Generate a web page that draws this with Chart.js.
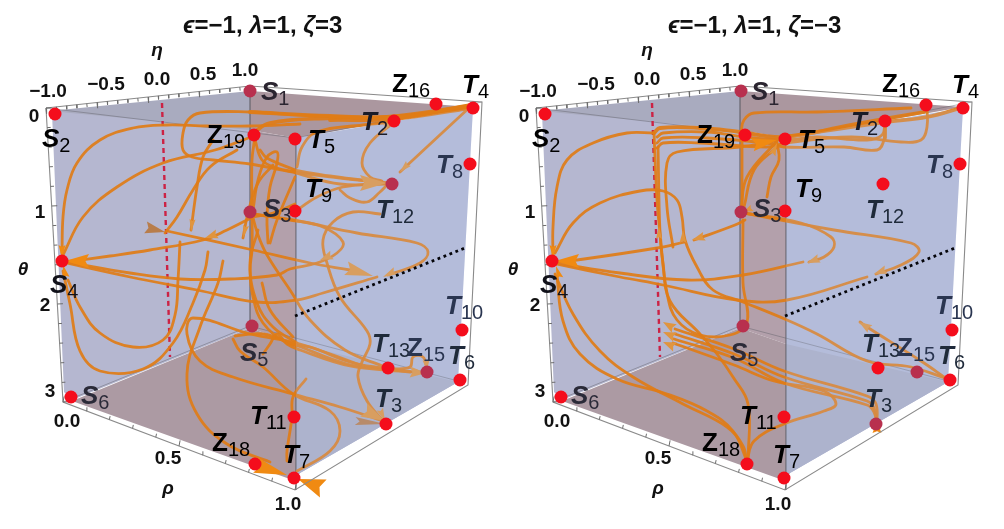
<!DOCTYPE html>
<html>
<head>
<meta charset="utf-8">
<style>
  html, body { margin: 0; padding: 0; background: #ffffff; }
  canvas { display: block; }
</style>
<script src="https://cdn.jsdelivr.net/npm/chart.js@4/dist/chart.umd.min.js"></script>
</head>
<body>
<canvas id="chart" width="1004" height="529"></canvas>
<script>
// All values below are read off the reference, in picture units of the left cube
// The right cube reuses the box, ticks and labels with panelShift added to x
const panelShift = [0, 490];

const frameOutline = [[46,108],[250,86],[482,102],[468,385],[295,490],[63,402],[46,108]];
const frameInner = [[[46,108],[296,138],[482,102]], [[296,138],[296,490]], [[250,86],[250,327]], [[63,402],[250,326],[458,381]]];
const faceLeft = [[52,113],[250,92],[250,328],[72,400],[64,392]];
const faceTopStrip = [[50,111],[250,91],[250,130]];
const faceTopMauve = [[250,91],[473,107],[296,138],[250,130]];
const faceStripe = [[250,130],[296,138],[296,344],[250,328]];
const faceFloorLeft = [[72,401],[250,328],[296,344],[296,478],[287,478]];
const faceRight = [[296,138],[473,108],[458,382],[300,473],[296,478]];
const faceFloorRight = [[296,344],[458,382],[300,473],[296,478]];

const etaTickEnds = [[46,108],[250,86]];
const thetaTickEnds = [[46,108],[63,402]];
const rhoTickEnds = [[63,402],[295,490]];
const etaDivisions = 20;
const thetaDivisions = 15;
const rhoDivisions = 10;

const dashedLine = [[162,103],[170,357]];
const dottedLine = [[295,316],[465,248]];

const fixedLeft = [[250,91,1],[55,114,0],[250,212,1],[62,261,0],[252,326,1],[71,397,0],[394,121,0],[386,424,0],[473,108,0],[295,139,0],[460,380,0],[294,478,0],[470,164,0],[295,211,0],[462,330,0],[294,417,0],[392,184,1],[388,368,0],[427,372,1],[436,104,0],[255,464,0],[254,135,0]];
const fixedRight = [[741,91,1],[545,114,0],[741,212,1],[552,261,0],[743,326,1],[561,397,0],[885,121,0],[876,424,1],[963,108,0],[785,139,0],[950,380,0],[784,478,0],[960,164,0],[785,211,0],[952,330,0],[784,417,0],[883,184,0],[878,368,0],[917,372,1],[926,105,0],[747,464,0],[745,135,0]];

// [letter, subscript, x, baseline, colour]
const pointLabels = [
  ['S','1',261,100,'#2b2530'],['S','2',42,147,'#000000'],['S','3',263,217,'#2b2a38'],['S','4',50,293,'#101018'],
  ['S','5',240,361,'#2b2a38'],['S','6',81,404,'#2a2a38'],['T','2',361,130,'#1a1c28'],['T','3',375,407,'#1f2a3a'],
  ['T','4',462,93,'#000000'],['T','5',308,148,'#000000'],['T','6',448,364,'#1f2a3a'],['T','7',283,463,'#000000'],
  ['T','8',436,173,'#2a3550'],['T','9',305,197,'#000000'],['T','10',445,314,'#2a3550'],['T','11',250,424,'#000000'],
  ['T','12',376,218,'#1f2a3a'],['T','13',372,352,'#1f2a3a'],['Z','15',407,356,'#2a3550'],['Z','16',392,92,'#000000'],
  ['Z','18',212,451,'#000000'],['Z','19',207,143,'#000000']
];
// [text, centre x, baseline]
const tickLabels = [
  ['\u22121.0',48,97],['\u22120.5',106,90],['0.0',157,85],['0.5',203,80],['1.0',245,76],
  ['0',34,122],['1',40,218],['2',45,311],['3',50,397],
  ['0.0',67,427],['0.5',168,464],['1.0',288,510]
];
const axisLetters = [['\u03b7',157,56],['\u03b8',23,275],['\u03c1',168,494]];
const titleLeft = [['\u03f5',1],['=\u22121, ',0],['\u03bb',1],['=1, ',0],['\u03b6',1],['=3',0]];
const titleRight = [['\u03f5',1],['=\u22121, ',0],['\u03bb',1],['=1, ',0],['\u03b6',1],['=\u22123',0]];
const titleAnchors = [[183,33],[668,33]];

const curvesLeft = [
  [[300,124],[250,126],[207,126],[167,125],[133,128],[100,140],[77,163],[67,190],[63,217],[62,253]],
  [[254,136],[215,150],[163,163],[117,187],[83,217],[63,255]],
  [[465,109],[380,117],[300,115],[250,112],[200,113],[188,120],[183,133],[183,150],[192,157],[213,160],[250,164],[293,172],[340,178],[385,183]],
  [[213,140],[203,157],[197,187],[191,230]],
  [[237,150],[210,167],[193,190],[177,217],[165,233]],
  [[167,231],[253,250],[310,263],[350,270]],
  [[253,214],[293,220],[357,233],[417,243],[428,252],[420,263],[388,275]],
  [[253,214],[290,220],[323,227],[343,242],[337,253],[317,263],[290,269],[277,275],[230,279],[180,279],[130,273],[66,262]],
  [[380,214],[353,212],[333,222],[323,240],[327,263],[340,297],[367,331],[370,344],[362,362],[358,377],[367,401],[384,422]],
  [[66,263],[130,277],[197,290],[257,302],[297,300],[323,293],[377,277]],
  [[470,107],[400,172]],
  [[393,123],[370,143],[362,163],[370,177],[382,181]],
  [[293,213],[317,197],[343,187],[386,183]],
  [[340,190],[350,198],[367,202],[380,192],[386,186]],
  [[293,170],[330,176],[386,183]],
  [[295,173],[340,184],[386,184]],
  [[297,167],[302,147],[317,132],[363,125],[394,122]],
  [[255,137],[252,160],[252,210],[252,250],[250,270],[253,297],[263,323],[287,343],[310,347],[350,362],[387,369]],
  [[260,150],[267,158],[295,170]],
  [[255,140],[262,160],[277,168],[295,172]],
  [[253,210],[258,180],[267,157],[277,152],[277,163],[270,187],[267,217],[268,243]],
  [[273,165],[258,183],[248,213],[243,238]],
  [[253,217],[227,230],[203,240],[150,250],[110,256],[65,262]],
  [[295,204],[273,213],[253,217]],
  [[252,214],[258,235],[267,255],[290,290],[310,320],[345,350],[385,367]],
  [[270,243],[277,220],[295,177]],
  [[258,230],[250,263],[257,303],[273,327],[297,343]],
  [[262,283],[270,310],[293,337]],
  [[68,280],[80,307],[100,333],[133,347],[163,340],[175,315],[178,280],[180,242]],
  [[208,252],[205,270],[193,303],[173,343],[143,369],[100,371],[80,351],[70,304],[63,271]],
  [[223,261],[218,283],[200,327],[187,374],[197,414],[227,444],[270,462]],
  [[360,365],[300,344],[250,334],[193,318],[187,334],[200,361],[233,377],[293,394],[340,407],[383,421]],
  [[233,339],[240,351],[263,367],[293,394],[330,411],[340,431],[330,451],[297,471]],
  [[235,336],[263,334],[293,344],[347,364],[387,369],[403,371],[425,373]],
  [[263,354],[270,344],[277,334],[287,344],[300,350],[350,366],[410,372]],
  [[390,369],[410,367],[413,357],[423,357],[427,369]],
  [[306,379],[293,397],[292,417],[287,451],[287,461]]
];
const thickCurvesLeft = [
  [[253,133],[270,123],[330,118],[387,117],[470,106]],
  [[330,120],[394,119],[470,108]],
  [[250,112],[330,116],[400,117],[470,105]]
];
const curvesRight = [
  [[654,133],[627,133],[593,143],[567,160],[557,187],[553,227],[553,257]],
  [[654,133],[657,200],[660,233],[667,293],[677,320],[700,335],[730,335],[747,323],[743,283],[743,220]],
  [[657,137],[663,133],[707,132],[745,137],[786,140],[817,137],[867,140],[882,135],[885,123]],
  [[657,143],[663,138],[707,138],[767,143],[784,147],[844,147],[877,150],[884,140],[885,123]],
  [[657,148],[663,143],[700,143],[767,147],[786,143],[851,137],[901,142],[921,140],[927,127],[927,107]],
  [[673,247],[667,207],[667,163],[677,152],[740,147],[775,141]],
  [[658,147],[660,233],[663,263],[670,301],[700,334],[717,354],[733,377],[748,404],[748,461]],
  [[555,253],[573,223],[600,203],[640,191],[663,191],[677,200],[682,217],[685,240],[697,267],[713,290],[743,302],[787,320],[817,334],[867,361],[911,367],[945,378]],
  [[947,379],[921,361],[867,327],[860,322]],
  [[745,220],[735,225],[694,240]],
  [[685,242],[657,248],[577,260],[556,262]],
  [[744,213],[834,230],[911,243],[919,252],[901,265],[876,274]],
  [[744,213],[801,223],[831,237],[834,247],[824,257],[809,262]],
  [[556,263],[620,273],[687,280],[743,275],[803,262]],
  [[556,264],[620,277],[663,285],[737,300],[787,300],[867,277]],
  [[557,277],[563,321],[580,354],[617,379],[667,394],[707,411],[733,431],[747,461]],
  [[555,274],[573,314],[600,351],[633,377],[683,404],[727,427],[743,446],[747,464]],
  [[747,461],[754,441],[784,424],[824,411],[836,404],[824,391],[774,381],[734,365],[673,343]],
  [[675,329],[734,349],[784,371],[867,396],[876,404],[877,424]],
  [[675,334],[734,354],[784,377],[867,401],[874,408],[877,424]],
  [[674,339],[734,358],[784,383],[867,405],[874,412],[877,424]],
  [[911,108],[817,112],[754,113],[744,120],[741,132]],
  [[741,210],[747,177],[777,141]],
  [[744,207],[754,170],[777,147]],
  [[767,197],[771,177],[779,160],[777,143]],
  [[742,135],[742,210]]
];
const thickCurvesRight = [
  [[654,133],[660,128],[700,128],[740,132],[784,137],[850,125],[924,112]],
  [[964,107],[927,117],[885,122],[784,137]],
  [[885,121],[885,138]]
];

// [tip x, tip y, tail x, tail y, length, width, colour index]
const arrowColours = ['#f08a12', '#e0953f', '#b87d4b'];
const arrowsLeft = [
  [65,261,90,261,24,14,0],[62,258,62,240,13,7,0],[63,265,68,285,13,7,0],[205,238,220,233,13,9,1],
  [191,232,193,215,13,6,1],[243,238,247,222,13,6,1],[373,276,345,268,28,14,1],[383,277,395,271,14,8,1],
  [320,260,332,255,13,9,1],[165,232,144,227,20,12,2],[387,183,362,183,27,16,1],[400,172,408,164,12,7,1],
  [385,421,360,408,24,15,1],[385,424,355,421,30,8,2],[385,421,378,405,13,7,1],[426,373,410,372,16,11,1],
  [427,370,426,360,10,7,1],[393,122,385,127,10,6,1],[287,475,255,465,33,16,0],[298,479,322,488,27,19,0]
];
const arrowsRight = [
  [555,261,580,261,24,14,0],[553,258,553,240,13,7,0],[556,266,562,285,13,7,0],[692,240,705,236,13,9,1],
  [659,226,659,240,13,6,1],[683,230,683,243,13,7,1],[874,274,888,269,13,9,1],[807,263,820,258,13,9,1],
  [859,322,870,329,13,9,1],[777,140,752,145,25,13,0],[777,143,771,158,13,7,1],[744,212,752,208,9,7,1],
  [663,322,675,329,13,10,1],[663,332,675,337,13,10,1],[663,342,675,347,13,10,1],[877,421,877,433,12,9,0]
];

const lineColour = 'rgba(224,124,22,0.92)';
const toPoints = pts => pts.map(p => ({ x: p[0], y: p[1] }));
const shifted = (pts, dx) => toPoints(pts.map(p => [p[0] + dx, p[1]]));

function polygon(pts, color, dx) {
  return { data: shifted(pts, dx), showLine: true, fill: 'shape', backgroundColor: color, borderWidth: 0, pointRadius: 0, tension: 0 };
}
function polyline(pts, color, width, dash, dx) {
  return { data: shifted(pts, dx), showLine: true, fill: false, borderColor: color, borderWidth: width, borderDash: dash || [], pointRadius: 0, tension: 0 };
}
function curve(pts, width) {
  return { data: toPoints(pts), showLine: true, fill: false, borderColor: lineColour, borderWidth: width, pointRadius: 0, tension: 0.4, borderCapStyle: 'round' };
}
function arrow(a) {
  const dx = a[0] - a[2], dy = a[1] - a[3];
  const d = Math.hypot(dx, dy), ux = dx / d, uy = dy / d;
  const bx = a[0] - ux * a[4], by = a[1] - uy * a[4];
  const nx = a[0] - ux * a[4] * 0.85, ny = a[1] - uy * a[4] * 0.85;
  const shape = [[a[0], a[1]], [bx - uy * a[5] / 2, by + ux * a[5] / 2], [nx, ny], [bx + uy * a[5] / 2, by - ux * a[5] / 2]];
  return polygon(shape, arrowColours[a[6]], 0);
}
function tickMarks(ends, divisions, len, nx, ny, majorEvery, dx) {
  const data = [];
  for (let i = 0; i <= divisions; i++) {
    const t = i / divisions;
    const x = ends[0][0] + (ends[1][0] - ends[0][0]) * t + dx;
    const y = ends[0][1] + (ends[1][1] - ends[0][1]) * t;
    const l = i % majorEvery === 0 ? len * 1.6 : len;
    data.push({ x: x, y: y }, { x: x + nx * l, y: y + ny * l }, { x: NaN, y: NaN });
  }
  return { data: data, showLine: true, fill: false, borderColor: '#6d6d6d', borderWidth: 1, pointRadius: 0, tension: 0, spanGaps: false };
}

const datasets = [];
panelShift.forEach((dx, panel) => {
  datasets.push(polygon(faceLeft, '#b5b7d0', dx));
  datasets.push(polygon(faceTopStrip, '#a9abbf', dx));
  datasets.push(polygon(faceTopMauve, '#ab979f', dx));
  datasets.push(polygon(faceStripe, '#b3a0ab', dx));
  datasets.push(polygon(faceFloorLeft, '#ac9aa3', dx));
  datasets.push(polygon(faceRight, '#b3bbd7', dx));
  datasets.push(polygon(faceFloorRight, '#abafc7', dx));
  frameInner.forEach(seg => datasets.push(polyline(seg, 'rgba(95,95,105,0.45)', 1, [], dx)));
  datasets.push(polyline(dashedLine, '#cc2244', 2.4, [5, 4], dx));
  (panel === 0 ? curvesLeft : curvesRight).forEach(c => datasets.push(curve(c, 2.8)));
  (panel === 0 ? thickCurvesLeft : thickCurvesRight).forEach(c => datasets.push(curve(c, 3.8)));
  (panel === 0 ? arrowsLeft : arrowsRight).forEach(a => datasets.push(arrow(a)));
  // the right face sits in front of the curves and washes them out a little
  datasets.push(polygon(faceRight, 'rgba(186,196,228,0.2)', dx));
  datasets.push(polyline(dottedLine, '#05050a', 2.8, [2.8, 3.6], dx));
  datasets.push(polyline(frameOutline, '#8a8a8a', 1.1, [], dx));
  datasets.push(tickMarks(etaTickEnds, etaDivisions, 3.5, 0.1, 1, 5, dx));
  datasets.push(tickMarks(thetaTickEnds, thetaDivisions, 3.5, 1, -0.05, 5, dx));
  datasets.push(tickMarks(rhoTickEnds, rhoDivisions, 3.5, 0.2, -1, 5, dx));
  const fixed = panel === 0 ? fixedLeft : fixedRight;
  datasets.push({
    data: toPoints(fixed),
    showLine: false,
    pointRadius: 6.5,
    pointBorderWidth: 0,
    pointBackgroundColor: fixed.map(p => p[2] ? '#b8304e' : '#f40d1c')
  });
});

// Texts are placed through the chart's own scales
const textPlugin = {
  id: 'cubeTexts',
  afterDatasetsDraw(chart) {
    const c = chart.ctx, sx = chart.scales.x, sy = chart.scales.y;
    const px = v => sx.getPixelForValue(v), py = v => sy.getPixelForValue(v);
    const family = "'Liberation Sans', 'DejaVu Sans', sans-serif";
    c.save();
    c.textBaseline = 'alphabetic';
    panelShift.forEach(dx => {
      pointLabels.forEach(l => {
        c.textAlign = 'left';
        c.fillStyle = l[4];
        c.font = (l[0] === 'Z' ? 'bold ' : 'italic bold ') + '26px ' + family;
        c.fillText(l[0], px(l[2] + dx), py(l[3]));
        const w = c.measureText(l[0]).width;
        c.font = '20px ' + family;
        c.fillText(l[1], px(l[2] + dx) + w, py(l[3] + 5));
      });
      c.textAlign = 'center';
      c.fillStyle = '#111111';
      c.font = 'bold 19px ' + family;
      tickLabels.forEach(t => c.fillText(t[0], px(t[1] + dx), py(t[2])));
      c.font = 'italic bold 19px ' + family;
      axisLetters.forEach(t => c.fillText(t[0], px(t[1] + dx), py(t[2])));
    });
    [titleLeft, titleRight].forEach((parts, i) => {
      let x = px(titleAnchors[i][0]);
      c.textAlign = 'left';
      c.fillStyle = '#111111';
      parts.forEach(p => {
        c.font = (p[1] ? 'italic ' : '') + 'bold 24px ' + family;
        c.fillText(p[0], x, py(titleAnchors[i][1]));
        x += c.measureText(p[0]).width;
      });
    });
    c.restore();
  }
};

// Chart.js paints the first dataset last, so flip the list to keep the paint order above
new Chart(document.getElementById('chart'), {
  type: 'scatter',
  data: { datasets: datasets.reverse() },
  plugins: [textPlugin],
  options: {
    responsive: false,
    animation: false,
    layout: { padding: 0, autoPadding: false },
    plugins: { legend: { display: false }, tooltip: { enabled: false } },
    scales: {
      x: { type: 'linear', min: 0, max: 1004, display: false },
      y: { type: 'linear', min: 0, max: 529, reverse: true, display: false }
    }
  }
});
</script>
</body>
</html>
